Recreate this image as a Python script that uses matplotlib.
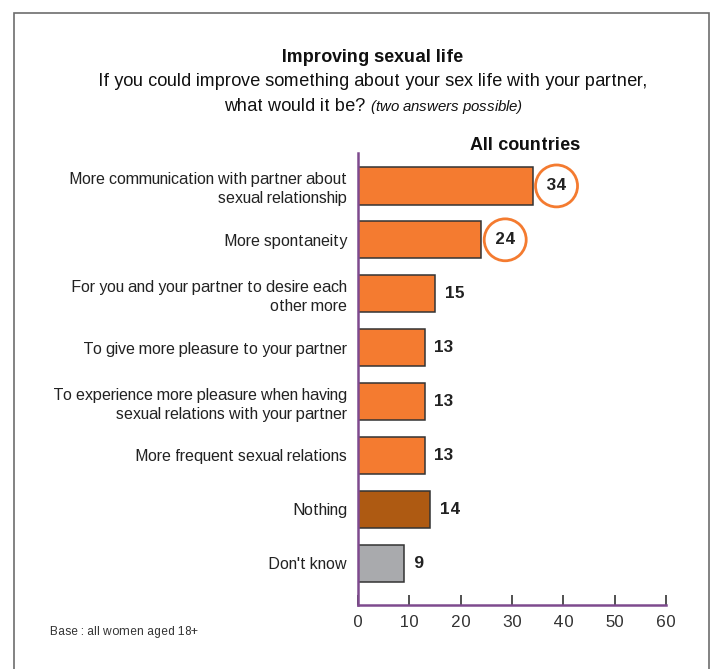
import matplotlib.pyplot as plt
from matplotlib import font_manager
from matplotlib.patches import Rectangle, Ellipse

names = {f.name for f in font_manager.fontManager.ttflist}
narrow = 'Liberation Sans Narrow' if 'Liberation Sans Narrow' in names else 'Liberation Sans'
plt.rcParams['font.family'] = [narrow, 'DejaVu Sans']
plt.rcParams['text.hinting_factor'] = 1

categories = [
    "More communication with partner about\nsexual relationship",
    "More spontaneity",
    "For you and your partner to desire each\nother more",
    "To give more pleasure to your partner",
    "To experience more pleasure when having\nsexual relations with your partner",
    "More frequent sexual relations",
    "Nothing",
    "Don't know",
]
values = [34, 24, 15, 13, 13, 13, 14, 9]
circled = [True, True, False, False, False, False, False, False]
colors = ['#F47B30'] * 6 + ['#AE5A12', '#A9AAAD']
ticks = [0, 10, 20, 30, 40, 50, 60]

W, H = 714, 669
fig = plt.figure(figsize=(W / 100, H / 100), dpi=100)

# outer frame (open at the bottom)
fig.add_artist(Rectangle((14 / W, -0.05), (709 - 14) / W, 1.05 - 13 / H,
                         transform=fig.transFigure, fill=False,
                         edgecolor='#6d6d6d', linewidth=1.2))

ax = fig.add_axes([358 / W, 1 - 605 / H, (666 - 358) / W, (605 - 153) / H])
y = list(range(len(categories)))
ax.barh(y, values, height=0.69, color=colors, edgecolor='#333333', linewidth=1.1)
ax.set_xlim(0, 60)
ax.set_ylim(7 + 42 / 54, -33 / 54)

purple = '#7E4A8E'
for s in ['top', 'right']:
    ax.spines[s].set_visible(False)
for s in ['left', 'bottom']:
    ax.spines[s].set_color(purple)
    ax.spines[s].set_linewidth(1.8)
ax.set_xticks(ticks)
ax.set_xticklabels([str(t) for t in ticks], fontsize=12.5, color='#333333')
ax.tick_params(axis='x', direction='in', length=7, width=1.2, color='#333333', pad=7)
ax.set_yticks(y)
ax.set_yticklabels(categories, fontsize=11.3, color='#222222', linespacing=1.3)
ax.tick_params(axis='y', length=0, pad=8)

unit = (666 - 358) / 60.0  # pixels per x unit
for i, (v, c) in enumerate(zip(values, circled)):
    if c:
        xc = v + 24 / unit
        ax.text(xc, i, str(v), ha='center', va='center',
                fontsize=12, fontweight='bold', color='#222222')
        ax.add_patch(Ellipse((xc, i), 42 / unit, 42 / 54,
                             fill=False, edgecolor='#F47B30', linewidth=2,
                             clip_on=False))
    else:
        ax.text(v + 1.9, i, str(v), ha='left', va='center',
                fontsize=12, fontweight='bold', color='#222222')

fig.text(525 / W, 1 - 145 / H, "All countries", ha='center', va='center',
         fontsize=13, fontweight='bold', color='#111111')
fig.text(373 / W, 1 - 57 / H, "Improving sexual life", ha='center', va='center',
         fontsize=13, fontweight='bold', color='#111111')
fig.text(373 / W, 1 - 82 / H,
         "If you could improve something about your sex life with your partner,",
         ha='center', va='center', fontsize=13.1, color='#111111')
t1 = fig.text(0, 0, "what would it be? ", fontsize=13.1, color='#111111')
t2 = fig.text(0, 0, "(two answers possible)", fontsize=11, style='italic', color='#111111')
fig.canvas.draw()
r = fig.canvas.get_renderer()
w1 = t1.get_window_extent(r).width
w2 = t2.get_window_extent(r).width
x0 = 373 - (w1 + w2) / 2
t1.set_position((x0 / W, 1 - 111 / H))
t2.set_position(((x0 + w1) / W, 1 - 111 / H))

fig.text(50 / W, 1 - 632 / H, "Base : all women aged 18+", ha='left', va='center',
         fontsize=8.5, color='#333333')

fig.savefig('out.png', dpi=100)
